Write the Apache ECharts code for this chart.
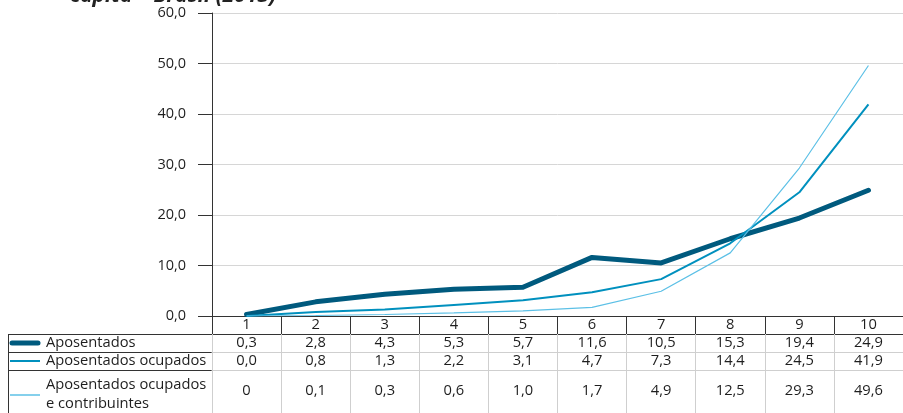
<!DOCTYPE html>
<html>
<head>
<meta charset="utf-8">
<script src="https://cdn.jsdelivr.net/npm/echarts@6/dist/echarts.min.js"></script>
<style>
  html, body { margin: 0; padding: 0; background: #fff; }
  #chart { width: 903px; height: 413px; }
</style>
</head>
<body>
<div id="chart"></div>
<script>
// Decis de renda domiciliar per capita
const categories = ['1', '2', '3', '4', '5', '6', '7', '8', '9', '10'];
const aposentados = [0.3, 2.8, 4.3, 5.3, 5.7, 11.6, 10.5, 15.3, 19.4, 24.9];
const ocupados = [0.0, 0.8, 1.3, 2.2, 3.1, 4.7, 7.3, 14.4, 24.5, 41.9];
const contribuintes = [0, 0.1, 0.3, 0.6, 1.0, 1.7, 4.9, 12.5, 29.3, 49.6];
const seriesNames = ['Aposentados', 'Aposentados ocupados', 'Aposentados ocupados\ne contribuintes'];

const FONT = '"Open Sans", "Noto Sans", sans-serif';
const FS = 14.7;
const TEXT = '#1e1e1e';
const DARK = '#333333';
const GRID = '#d6d6d6';
const CELL = '#cfcfcf';
const C1 = '#005a7e';
const C2 = '#0090be';
const C3 = '#5cc0e6';

const fmt = v => v.toFixed(1).replace('.', ',');
const fmtContrib = v => (v === 0 ? '0' : fmt(v));

const chart = echarts.init(document.getElementById('chart'), null, { renderer: 'canvas' });

// one bottom axis per table row: its line draws the row border, its ticks the cell dividers
function rowAxis(offset, lineColor, tickColor, tickLen, margin, formatter) {
  return {
    type: 'category',
    data: categories,
    gridIndex: 0,
    position: 'bottom',
    offset: offset,
    boundaryGap: true,
    axisLine: { show: true, lineStyle: { color: lineColor, width: 1 } },
    axisTick: { show: true, length: tickLen, lineStyle: { color: tickColor, width: 1 } },
    axisLabel: {
      show: true, margin: margin, verticalAlign: 'middle', lineHeight: 16,
      fontFamily: FONT, fontSize: FS, color: TEXT, formatter: formatter
    },
    splitLine: { show: false }
  };
}

const option = {
  animation: false,
  backgroundColor: '#fff',
  grid: { left: 212, top: 13, width: 700, height: 303, containLabel: false },
  xAxis: [
    rowAxis(0, DARK, DARK, 18, 9, v => v),
    rowAxis(18, DARK, CELL, 18, 9, (v, i) => fmt(aposentados[i])),
    rowAxis(36, CELL, CELL, 18, 9, (v, i) => fmt(ocupados[i])),
    rowAxis(54, CELL, CELL, 45, 21, (v, i) => fmtContrib(contribuintes[i]))
  ],
  yAxis: {
    type: 'value',
    min: 0, max: 60, interval: 10,
    axisLine: { show: true, lineStyle: { color: DARK, width: 1 } },
    axisTick: { show: true, length: 14, lineStyle: { color: DARK, width: 1 } },
    axisLabel: { margin: 26, fontFamily: FONT, fontSize: 14.5, color: TEXT, formatter: v => fmt(v) },
    splitLine: { show: true, lineStyle: { color: GRID, width: 1 } }
  },
  series: [
    {
      name: seriesNames[0], type: 'line', data: aposentados, showSymbol: false, symbol: 'none',
      lineStyle: { color: C1, width: 5, cap: 'round', join: 'round' }
    },
    {
      name: seriesNames[1], type: 'line', data: ocupados, showSymbol: false, symbol: 'none',
      lineStyle: { color: C2, width: 2 }
    },
    {
      name: seriesNames[2], type: 'line', data: contribuintes, showSymbol: false, symbol: 'none',
      lineStyle: { color: C3, width: 1.2 }
    }
  ],
  graphic: [
    // chart heading (runs above the top edge)
    { type: 'text', left: 70, top: -14, style: { text: 'capita – Brasil (2013)', font: 'italic bold 21px ' + FONT, fill: '#222' } },
    // legend column borders
    { type: 'line', shape: { x1: 212.5, y1: 316, x2: 212.5, y2: 413 }, style: { stroke: DARK, lineWidth: 1 } },
    { type: 'line', shape: { x1: 8.5, y1: 334, x2: 8.5, y2: 413 }, style: { stroke: DARK, lineWidth: 1 } },
    { type: 'line', shape: { x1: 8, y1: 334.5, x2: 212, y2: 334.5 }, style: { stroke: DARK, lineWidth: 1 } },
    { type: 'line', shape: { x1: 8, y1: 352.5, x2: 212, y2: 352.5 }, style: { stroke: DARK, lineWidth: 1 } },
    { type: 'line', shape: { x1: 8, y1: 370.5, x2: 212, y2: 370.5 }, style: { stroke: DARK, lineWidth: 1 } },
    // legend keys
    { type: 'line', shape: { x1: 12, y1: 343, x2: 38, y2: 343 }, style: { stroke: C1, lineWidth: 5, lineCap: 'round' } },
    { type: 'line', shape: { x1: 10, y1: 361, x2: 40, y2: 361 }, style: { stroke: C2, lineWidth: 2 } },
    { type: 'line', shape: { x1: 10, y1: 395, x2: 40, y2: 395 }, style: { stroke: C3, lineWidth: 1.5 } },
    { type: 'text', left: 46, top: 334, style: { text: seriesNames[0], font: FS + 'px ' + FONT, fill: TEXT, lineHeight: 18 } },
    { type: 'text', left: 46, top: 352, style: { text: seriesNames[1], font: FS + 'px ' + FONT, fill: TEXT, lineHeight: 18 } },
    { type: 'text', left: 46, top: 375, style: { text: seriesNames[2], font: FS + 'px ' + FONT, fill: TEXT, lineHeight: 19 } }
  ]
};

chart.setOption(option);
</script>
</body>
</html>
